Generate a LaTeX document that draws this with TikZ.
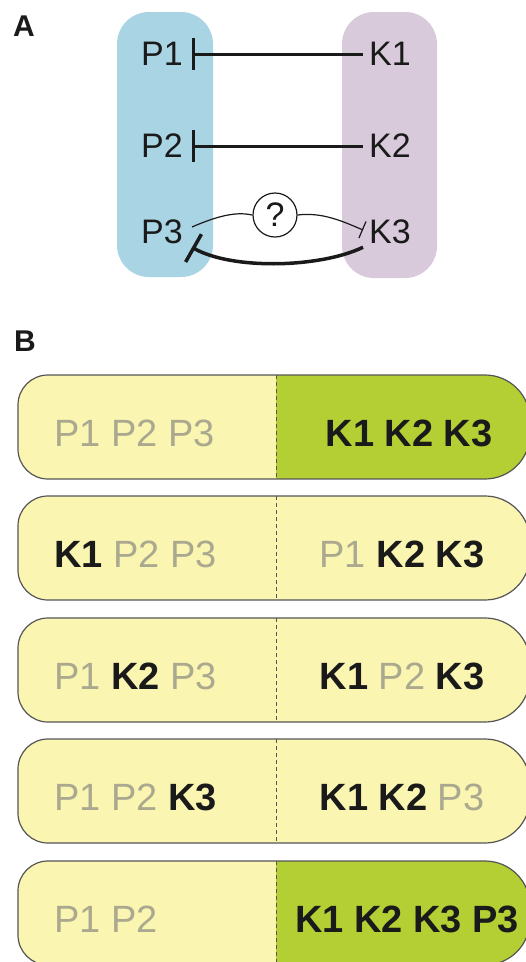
\documentclass[tikz,border=0pt]{standalone}
\usepackage{fontspec}
\setmainfont{Liberation Sans}
\usepackage{tikz}
\usetikzlibrary{arrows.meta,positioning}
\definecolor{pblue}{RGB}{169,212,228}
\definecolor{kpurple}{RGB}{216,201,219}
\definecolor{capyellow}{RGB}{251,245,178}
\definecolor{capgreen}{RGB}{179,207,52}
\definecolor{fadetext}{RGB}{170,168,142}
\definecolor{rimgray}{RGB}{85,85,85}
\definecolor{ink}{RGB}{26,26,26}
\tikzset{
  lbl/.style={font=\fontsize{34pt}{37pt}\selectfont, text=ink, inner ysep=3pt},
  pnode/.style={lbl, inner xsep=9pt},
  knode/.style={lbl, inner xsep=6pt},
  inhib/.style={-{Bar[width=32pt]}, line width=3pt, draw=ink},
  weak/.style={line width=1.2pt, draw=ink},
  weakinhib/.style={weak, -{Bar[width=18pt]}},
  panel/.style={rounded corners=32pt},
  rim/.style={draw=rimgray, line width=1.2pt},
  divider/.style={rimgray, line width=1pt, dash pattern=on 4pt off 3pt},
  bartext/.style={font=\fontsize{38pt}{42pt}\selectfont, text=ink, inner sep=0pt},
  panellabel/.style={font=\fontsize{30pt}{32pt}\selectfont\bfseries, text=ink}
}
\newcommand\fd[1]{\textcolor{fadetext}{#1}}
\newcommand\bd[1]{\textbf{#1}}
\newcommand\capsulepath[1]{(200,#1) [rounded corners=45pt] -- (530,#1) -- (530,#1+104) -- (200,#1+104) [rounded corners=30pt] -- (18,#1+104) -- (18,#1) -- cycle}
\newcommand\capsule[2]{%
  \begin{scope}
    \clip \capsulepath{#1};
    \fill[capyellow] (0,#1) rectangle (540,#1+104);
    \fill[#2] (276,#1) rectangle (540,#1+104);
  \end{scope}
  \draw[divider] (276,#1) -- (276,#1+104);
  \draw[rim] \capsulepath{#1};
}

\begin{document}
\begin{tikzpicture}[x=1pt, y=-1pt]
  \useasboundingbox (0,0) rectangle (526,962);
  \clip (0,0) rectangle (526,962);

  % A
  \node[panellabel] (labA) at (24,26) {A};
  \fill[pblue, panel] (117,12) rectangle (213,277);
  \fill[kpurple, panel] (342,12) rectangle (437,278);
  \node[pnode] (p1) at (162,54) {P1};
  \node[pnode] (p2) at (162,146) {P2};
  \node[pnode] (p3) at (162,232) {P3};
  \node[knode] (k1) at (390,54) {K1};
  \node[knode] (k2) at (390,146) {K2};
  \node[knode] (k3) at (390,232) {K3};
  \node[circle, weak, draw, minimum size=44pt, inner sep=0pt, lbl] (q) at (275,215) {?};
  \draw[inhib] (k1) -- (p1);
  \draw[inhib] (k2) -- (p2);
  \draw[weak] ([yshift=5pt]p3.east) .. controls (222,214) and (238,212) .. (q.west);
  \draw[weakinhib] (q.east) .. controls (322,212) and (342,221) .. ([yshift=2pt]k3.west);
  \draw[inhib, line width=3.5pt] (k3.south west) .. controls (320,268) and (232,270) .. (p3.south east);

  % B
  \node[panellabel] (labB) at (25,341) {B};
  \capsule{375}{capgreen}
  \capsule{496}{capyellow}
  \capsule{618}{capyellow}
  \capsule{739}{capyellow}
  \capsule{861}{capgreen}
  \node[bartext, anchor=base west] (l1) at (54,446) {\fd{P1 P2 P3}};
  \node[bartext, anchor=base] (r1) at (409,446) {\bd{K1 K2 K3}};
  \node[bartext, anchor=base west] (l2) at (54,567) {\bd{K1} \fd{P2 P3}};
  \node[bartext, anchor=base] (r2) at (402,567) {\fd{P1} \bd{K2 K3}};
  \node[bartext, anchor=base west] (l3) at (54,689) {\fd{P1} \bd{K2} \fd{P3}};
  \node[bartext, anchor=base] (r3) at (402,689) {\bd{K1} \fd{P2} \bd{K3}};
  \node[bartext, anchor=base west] (l4) at (54,810) {\fd{P1 P2} \bd{K3}};
  \node[bartext, anchor=base] (r4) at (402,810) {\bd{K1 K2} \fd{P3}};
  \node[bartext, anchor=base west] (l5) at (54,932) {\fd{P1 P2}};
  \node[bartext, anchor=base] (r5) at (407,932) {\bd{K1 K2 K3 P3}};
\end{tikzpicture}
\end{document}
